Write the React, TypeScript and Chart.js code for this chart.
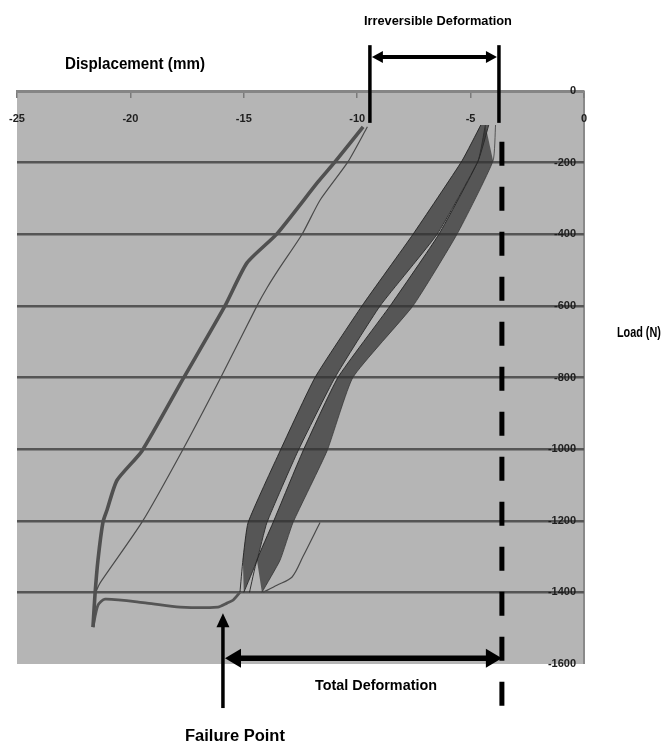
import { useEffect, useRef } from 'react';
import { Chart, registerables } from 'chart.js';

Chart.register(...registerables);

// ---- axes ----
const displacementRange = [-25, 0];
const displacementStep = 5;
const loadRange = [-1600, 0];
const loadStep = 200;

// ---- repeated cycles: loading band (left) and unloading band (right) ----
const bandLoads = [-95, -195, -400, -600, -800, -1005, -1205, -1310, -1400];
const loadingLeftX = [-4.55, -5.38, -7.54, -9.79, -11.86, -13.4, -14.81, -15.04, -15.17];
const loadingRightX = [-4.2, -4.67, -6.48, -8.99, -10.98, -12.61, -13.98, -14.42, -15.0];
const unloadingLeftX = [-4.35, -4.67, -6.4, -8.55, -10.85, -12.39, -13.71, -14.42, -14.75];
const unloadingRightX = [-3.9, -4.01, -5.6, -7.54, -10.19, -11.33, -12.83, -13.4, -14.2];

// ---- last unloading branch starting at -1200 N ----
const lastBranchX = [-14.15, -13.54, -12.87, -12.39, -11.64];
const lastBranchLoad = [-1400, -1380, -1357, -1300, -1205];

// ---- large loop (after failure) ----
const outerLoopX = [-9.74, -10.98, -11.73, -13.54, -14.86, -15.83, -17.68, -19.49, -20.59, -21.03, -21.21, -21.43, -21.56, -21.65];
const outerLoopLoad = [-100, -198, -254, -399, -480, -600, -804, -1005, -1087, -1170, -1204, -1310, -1405, -1497];
const innerLoopX = [-9.55, -10.41, -11.64, -12.43, -13.4, -13.98, -14.42, -16.05, -17.72, -19.49, -21.34, -21.5];
const innerLoopLoad = [-100, -198, -305, -400, -492, -550, -600, -804, -1005, -1204, -1374, -1395];

// ---- failure plateau ----
const failurePathX = [-21.65, -21.43, -21.12, -19.27, -17.81, -16.14, -15.74, -15.48, -15.17];
const failurePathLoad = [-1497, -1436, -1419, -1430, -1441, -1441, -1430, -1422, -1400];

// ---- annotations (data units) ----
const irreversibleSpan = [-9.44, -3.75];
const bracketLoadTop = 128;
const bracketLoadBottom = -89;
const bracketArrowLoad = 95;
const totalSpan = [-15.83, -3.62];
const totalArrowLoad = -1584;
const dashedLoadRange = [-142, -1718];
const failureArrowX = -15.92;
const failureArrowLoads = [-1723, -1458];

const labelTexts = ['Irreversible Deformation', 'Displacement (mm)', 'Load (N)', 'Total Deformation', 'Failure Point'];
const labelX = [-6.44, -19.8, 2.42, -9.17, -15.39];
const labelLoad = [193, 75, -676, -1662, -1804];
const labelFontPx = [13, 16, 14, 14, 16];
const labelWidthPx = [148, 140, 44, 122, 100];

const zip = (xs: number[], ys: number[]) => xs.map((x, i) => ({ x, y: ys[i] }));

const bgPlugin = {
  id: 'plotBg',
  beforeDraw(chart: any) {
    const { ctx, chartArea: a } = chart;
    ctx.save();
    ctx.fillStyle = '#b5b5b5';
    ctx.fillRect(a.left, a.top, a.right - a.left, a.bottom - a.top);
    ctx.strokeStyle = '#8a8a8a';
    ctx.lineWidth = 2;
    ctx.beginPath();
    ctx.moveTo(a.right, a.top);
    ctx.lineTo(a.right, a.bottom);
    ctx.stroke();
    ctx.restore();
  },
};

function arrowHead(ctx: CanvasRenderingContext2D, tx: number, ty: number, dx: number, dy: number, len: number, half: number) {
  const n = Math.hypot(dx, dy) || 1;
  const ux = dx / n, uy = dy / n;
  const bx = tx - ux * len, by = ty - uy * len;
  ctx.beginPath();
  ctx.moveTo(tx, ty);
  ctx.lineTo(bx - uy * half, by + ux * half);
  ctx.lineTo(bx + uy * half, by - ux * half);
  ctx.closePath();
  ctx.fill();
}

function arrowLine(ctx: CanvasRenderingContext2D, x1: number, y1: number, x2: number, y2: number, w: number, len: number, half: number, startHead: boolean, endHead: boolean) {
  const n = Math.hypot(x2 - x1, y2 - y1) || 1;
  const ux = (x2 - x1) / n, uy = (y2 - y1) / n;
  const sx = startHead ? x1 + ux * len * 0.8 : x1;
  const sy = startHead ? y1 + uy * len * 0.8 : y1;
  const ex = endHead ? x2 - ux * len * 0.8 : x2;
  const ey = endHead ? y2 - uy * len * 0.8 : y2;
  ctx.lineWidth = w;
  ctx.beginPath();
  ctx.moveTo(sx, sy);
  ctx.lineTo(ex, ey);
  ctx.stroke();
  if (startHead) arrowHead(ctx, x1, y1, x1 - x2, y1 - y2, len, half);
  if (endHead) arrowHead(ctx, x2, y2, x2 - x1, y2 - y1, len, half);
}

const annotationPlugin = {
  id: 'annotations',
  afterDraw(chart: any) {
    const { ctx } = chart;
    const xs = chart.scales.x;
    const ys = chart.scales.y;
    const px = (v: number) => xs.getPixelForValue(v);
    const py = (v: number) => ys.getPixelForValue(v);
    ctx.save();
    ctx.strokeStyle = '#000';
    ctx.fillStyle = '#000';
    ctx.lineCap = 'butt';

    // irreversible bracket
    ctx.lineWidth = 3.5;
    for (const v of irreversibleSpan) {
      ctx.beginPath();
      ctx.moveTo(px(v), py(bracketLoadTop));
      ctx.lineTo(px(v), py(bracketLoadBottom));
      ctx.stroke();
    }
    arrowLine(ctx, px(irreversibleSpan[0]) + 2, py(bracketArrowLoad), px(irreversibleSpan[1]) - 2, py(bracketArrowLoad), 4, 11, 6, true, true);

    // dashed total deformation line
    ctx.save();
    ctx.lineWidth = 5;
    ctx.setLineDash([24, 21]);
    ctx.beginPath();
    ctx.moveTo(px(totalSpan[1]), py(dashedLoadRange[0]));
    ctx.lineTo(px(totalSpan[1]), py(dashedLoadRange[1]));
    ctx.stroke();
    ctx.restore();

    // total deformation arrow
    arrowLine(ctx, px(totalSpan[0]), py(totalArrowLoad), px(totalSpan[1]), py(totalArrowLoad), 5.5, 16, 9.5, true, true);

    // failure point arrow
    arrowLine(ctx, px(failureArrowX), py(failureArrowLoads[0]), px(failureArrowX), py(failureArrowLoads[1]), 3.5, 14, 6.5, false, true);

    // labels
    ctx.textAlign = 'center';
    ctx.textBaseline = 'middle';
    labelTexts.forEach((t, i) => {
      ctx.font = `bold ${labelFontPx[i]}px "Liberation Sans", Arial, sans-serif`;
      const w = ctx.measureText(t).width;
      ctx.save();
      ctx.translate(px(labelX[i]), py(labelLoad[i]));
      ctx.scale(labelWidthPx[i] / w, 1);
      ctx.fillText(t, 0, 0);
      ctx.restore();
    });
    ctx.restore();
  },
};

export default function App() {
  const canvasRef = useRef<HTMLCanvasElement | null>(null);

  useEffect(() => {
    if (!canvasRef.current) return;
    const bandFill = 'rgba(50,50,50,0.72)';
    const bandEdge = 'rgba(35,35,35,0.9)';
    const chart = new Chart(canvasRef.current, {
      type: 'scatter',
      data: {
        datasets: [
          { data: zip(loadingLeftX, bandLoads), showLine: true, borderColor: bandEdge, borderWidth: 1, fill: '+1', backgroundColor: bandFill, tension: 0.15 },
          { data: zip(loadingRightX, bandLoads), showLine: true, borderColor: bandEdge, borderWidth: 1, fill: false, tension: 0.15 },
          { data: zip(unloadingLeftX, bandLoads), showLine: true, borderColor: bandEdge, borderWidth: 1, fill: '+1', backgroundColor: bandFill, tension: 0.15 },
          { data: zip(unloadingRightX, bandLoads), showLine: true, borderColor: 'rgba(60,60,60,0.8)', borderWidth: 1, fill: false, tension: 0.15 },
          { data: zip(lastBranchX, lastBranchLoad), showLine: true, borderColor: '#4a4a4a', borderWidth: 1.2, fill: false, tension: 0.3 },
          { data: zip(innerLoopX, innerLoopLoad), showLine: true, borderColor: '#4a4a4a', borderWidth: 1.2, fill: false, tension: 0.2 },
          { data: zip(outerLoopX, outerLoopLoad), showLine: true, borderColor: '#505050', borderWidth: 3.6, fill: false, tension: 0.2 },
          { data: zip(outerLoopX, outerLoopLoad), showLine: true, borderColor: '#a8a8a8', borderWidth: 1.2, fill: false, tension: 0.2 },
          { data: zip(failurePathX, failurePathLoad), showLine: true, borderColor: '#555', borderWidth: 2.8, fill: false, tension: 0.25 },
          { data: zip(failurePathX, failurePathLoad), showLine: true, borderColor: '#a0a0a0', borderWidth: 0.9, fill: false, tension: 0.25 },
        ],
      },
      options: {
        responsive: true,
        maintainAspectRatio: false,
        animation: false,
        layout: { padding: { left: 17, top: 91, right: 77, bottom: 84 } },
        elements: { point: { radius: 0, hoverRadius: 0 } },
        plugins: { legend: { display: false }, tooltip: { enabled: false } },
        scales: {
          x: {
            type: 'linear',
            min: displacementRange[0],
            max: displacementRange[1],
            position: { y: 0 } as any,
            afterFit: (s: any) => {
              s.paddingLeft = 0;
              s.paddingRight = 0;
            },
            ticks: {
              stepSize: displacementStep,
              padding: 16,
              color: '#1e1e1e',
              font: { family: '"Liberation Sans", Arial, sans-serif', size: 11, weight: 'bold' },
              callback: (v: any) => String(v),
            },
            grid: { drawOnChartArea: false, drawTicks: true, tickLength: 5, color: '#7a7a7a', lineWidth: 1.5 },
            border: { display: true, color: '#858585', width: 3 },
          },
          y: {
            type: 'linear',
            min: loadRange[0],
            max: loadRange[1],
            position: { x: -0.35 } as any,
            afterFit: (s: any) => {
              s.paddingTop = 0;
              s.paddingBottom = 0;
            },
            ticks: {
              stepSize: loadStep,
              color: '#1e1e1e',
              font: { family: '"Liberation Sans", Arial, sans-serif', size: 11, weight: 'bold' },
              callback: (v: any) => String(v),
            },
            grid: {
              drawTicks: false,
              color: (c: any) => (c.tick && (c.tick.value === 0 || c.tick.value === -1600) ? 'rgba(0,0,0,0)' : '#555'),
              lineWidth: 2.5,
            },
            border: { display: false },
          },
        },
      },
      plugins: [bgPlugin, annotationPlugin],
    });
    return () => chart.destroy();
  }, []);

  return (
    <div style={{ position: 'absolute', left: 0, top: 0, width: 661, height: 748, background: '#fff' }}>
      <canvas ref={canvasRef} />
    </div>
  );
}
